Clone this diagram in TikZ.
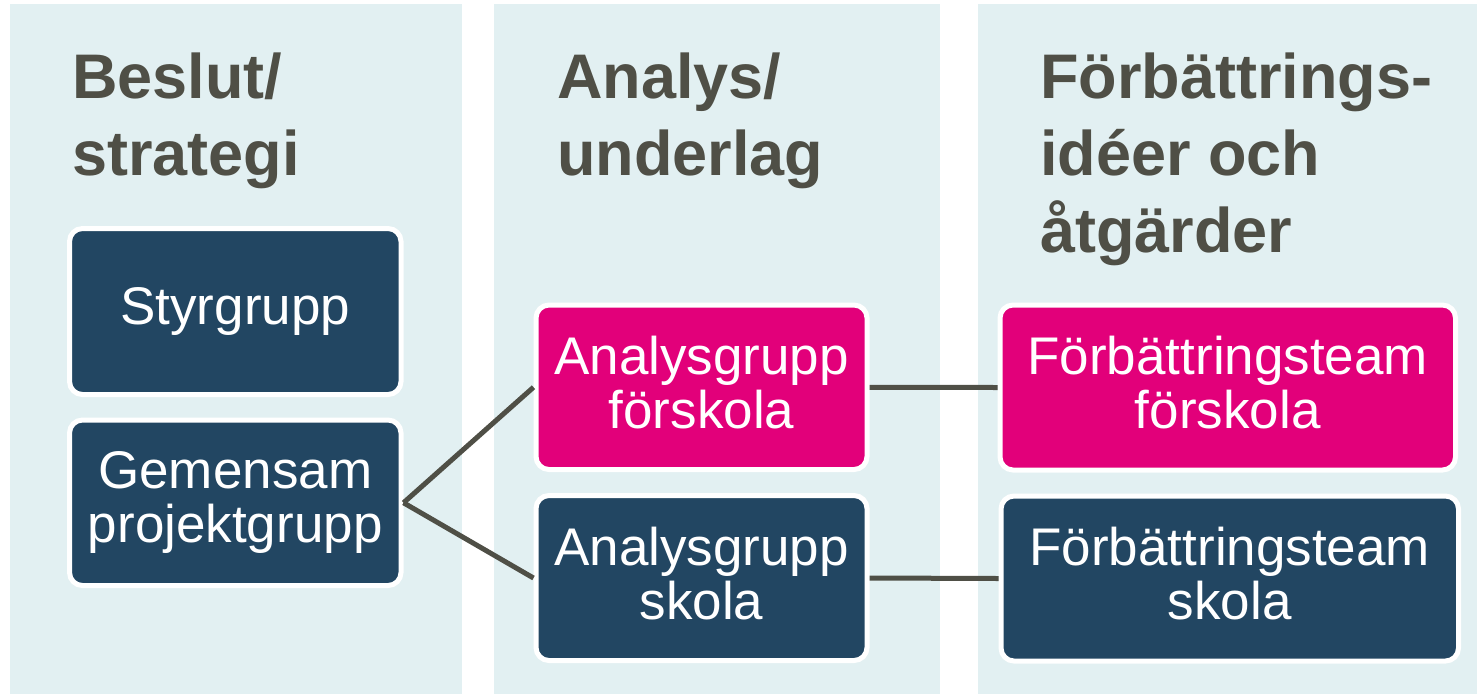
\documentclass[tikz,border=0pt]{standalone}
\usepackage{fontspec}
\setmainfont{Liberation Sans}
\definecolor{bgblue}{HTML}{E2F0F2}
\definecolor{navy}{HTML}{224662}
\definecolor{pinkc}{HTML}{E2007A}
\definecolor{headgray}{HTML}{4F4F46}
\definecolor{linegray}{HTML}{4F4F46}
\begin{document}
\begin{tikzpicture}[x=1pt,y=-1pt,
  colbg/.style={fill=bgblue, draw=none},
  grpbox/.style={draw=white, line width=5pt, rounded corners=13pt, text=white,
    align=center, font=\fontsize{53}{54}\selectfont, inner sep=0pt,
    execute at end node={\rule[-0.18em]{0pt}{0pt}}},
  navybox/.style={grpbox, fill=navy},
  pinkbox/.style={grpbox, fill=pinkc},
  header/.style={anchor=base west, align=left, inner sep=0pt, text=headgray,
    font=\fontsize{63}{77}\selectfont\bfseries},
  link/.style={draw=linegray, line width=5pt}]
\useasboundingbox (0,0) rectangle (1477,694);
% column backgrounds
\fill[colbg] (10,4) rectangle (462,694);
\fill[colbg] (494,4) rectangle (940,694);
\fill[colbg] (978,4) rectangle (1477,694);
% headers (anchor at baseline of the last line)
\node[header] (h1) at (72,175) {Beslut/\\strategi};
\node[header] (h2) at (557,175) {Analys/\\underlag};
\node[header] (h3) at (1040,252) {Förbättrings-\\idéer och\\åtgärder};
% boxes
\node[navybox, minimum width=331.5pt, minimum height=166pt] (styr) at (235.25,311.5) {Styrgrupp};
\node[navybox, minimum width=331.5pt, minimum height=165.5pt] (gem) at (235.25,502.75) {Gemensam\\projektgrupp};
\node[pinkbox, minimum width=331pt, minimum height=164.5pt] (af) at (701.5,387.25) {Analysgrupp\\förskola};
\node[navybox, minimum width=331pt, minimum height=165pt] (as) at (701.5,578) {Analysgrupp\\skola};
\node[pinkbox, minimum width=455.5pt, minimum height=165pt] (ff) at (1227.75,387.5) {Förbättringsteam\\förskola};
\node[navybox, minimum width=457.5pt, minimum height=165pt] (fs) at (1229.75,578.5) {Förbättringsteam\\skola};
% connectors
\draw[link] (gem.east) -- (af.west);
\draw[link] (gem.east) -- (as.west);
\draw[link] (af.east) -- (ff.west);
\draw[link] (as.east) -- (fs.west);
\end{tikzpicture}
\end{document}
